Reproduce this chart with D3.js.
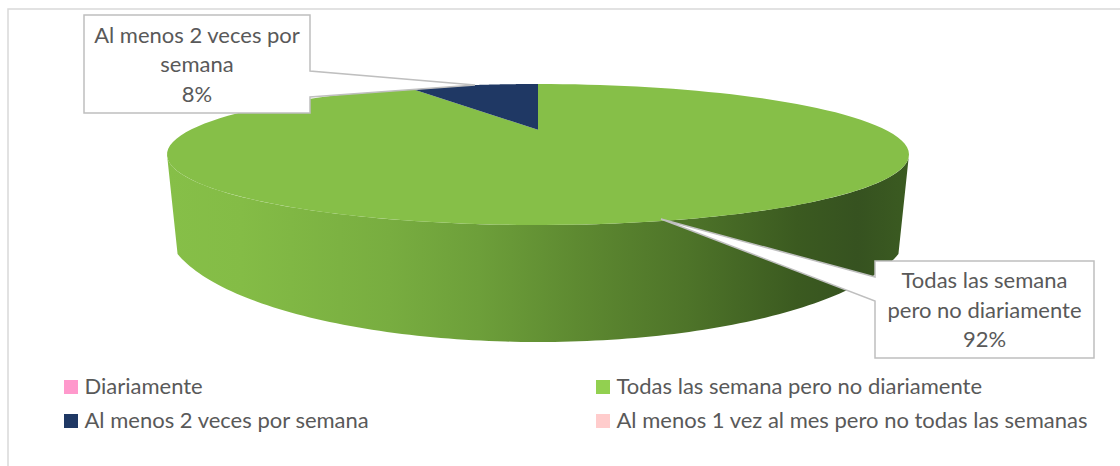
<!DOCTYPE html>
<html><head><meta charset="utf-8">
<script src="https://cdn.jsdelivr.net/npm/d3@7"></script>
<style>html,body{margin:0;padding:0;background:#fff}svg{display:block}text{font-family:Lato,sans-serif}</style>
</head><body><div id="chart"></div>
<script>
const categories = ["Diariamente","Todas las semana pero no diariamente","Al menos 2 veces por semana","Al menos 1 vez al mes pero no todas las semanas"];
const values = [0,92,8,0];
const sliceColors = ["#FF99CC","#86BF48","#1F3864","#FFCCCC"];
const legendColors = ["#FF99CC","#92D050","#1F3864","#FFCCCC"];
const callouts = [
 {lines:["Al menos 2 veces por","semana","8%"],box:[84,15,310,113],root:[71,97],tip:[475,85],base:[43,72,102]},
 {lines:["Todas las semana","pero no diariamente","92%"],box:[875,261,1094,358],root:[277,301],tip:[661,219],base:[288,318,347]}
];
const W=1120,H=466;
const svg=d3.select("#chart").append("svg").attr("width",W).attr("height",H);
const defs=svg.append("defs");
const grad=defs.append("linearGradient").attr("id","wall").attr("gradientUnits","userSpaceOnUse").attr("x1",167).attr("x2",909).attr("y1",0).attr("y2",0);
[[0,"#86BF48"],[0.1,"#84BC46"],[0.3,"#78AD40"],[0.42,"#6D9F3A"],[0.55,"#5E8A31"],[0.7,"#4E7429"],[0.85,"#3B5A20"],[0.93,"#365220"],[1,"#3B5B21"]]
 .forEach(([o,c])=>grad.append("stop").attr("offset",o).attr("stop-color",c));

// frame
svg.append("path").attr("d","M8,466V9H1120").attr("fill","none").attr("stroke","#d9d9d9").attr("stroke-width",1.5);

// pie geometry
const cx=538,cy=154.5,rx=371,ry=70.5,a=-0.35;
const bx=538,by=225,brx=372,bry=117,phi0=0.25;
const pie=d3.pie().sort(null).value(d=>d)(values);
const proj=(u,v)=>{const d=1+a*v;return [cx+rx*u*Math.sqrt(1-a*a)/d, cy+ry*(v+a)/d];};
const rim=t=>proj(Math.sin(t),-Math.cos(t));
const line=d3.line();
const samples=(s,e)=>d3.range(0,121).map(i=>s+(e-s)*i/120);

// wall: visible front half of the disc thickness
const topFront=samples(0,Math.PI).map(p=>[cx+rx*Math.cos(p),cy+ry*Math.sin(p)]);
const botFront=samples(Math.PI-phi0,phi0).map(p=>[bx+brx*Math.cos(p),by+bry*Math.sin(p)]);
svg.append("path").attr("d",line(topFront.concat(botFront))+"Z").attr("fill","url(#wall)");

// top surface
svg.selectAll("path.slice").data(pie.filter(d=>d.value>0)).join("path").attr("class","slice")
 .attr("d",d=>line([proj(0,0)].concat(samples(d.startAngle,d.endAngle).map(rim)))+"Z")
 .attr("fill",d=>sliceColors[d.index]);

// callouts
callouts.forEach(c=>{
 const [x0,y0,x1,y1]=c.box;
 const p=c.tip[0]>x1
  ?[[x0,y0],[x1,y0],[x1,c.root[0]],c.tip,[x1,c.root[1]],[x1,y1],[x0,y1]]
  :[[x0,y0],[x1,y0],[x1,y1],[x0,y1],[x0,c.root[1]],c.tip,[x0,c.root[0]]];
 svg.append("path").attr("d",line(p)+"Z").attr("fill","#fff").attr("stroke","#bfbfbf").attr("stroke-width",1.5);
 c.lines.forEach((t,i)=>svg.append("text").attr("x",(x0+x1)/2).attr("y",c.base[i]).attr("text-anchor","middle")
   .attr("font-size",22).attr("fill","#595959").text(t));
});

// legend
const lx=d3.scalePoint().domain([0,1]).range([64,596]);
const ly=d3.scalePoint().domain([0,1]).range([387,421]);
categories.forEach((c,i)=>{
 const col=i%2,row=Math.floor(i/2);
 svg.append("rect").attr("x",lx(col)).attr("y",ly(row)-7).attr("width",14).attr("height",14).attr("fill",legendColors[i]);
 svg.append("text").attr("x",lx(col)+20.5).attr("y",ly(row)+7).attr("font-size",22).attr("fill","#595959").text(c);
});
</script></body></html>
